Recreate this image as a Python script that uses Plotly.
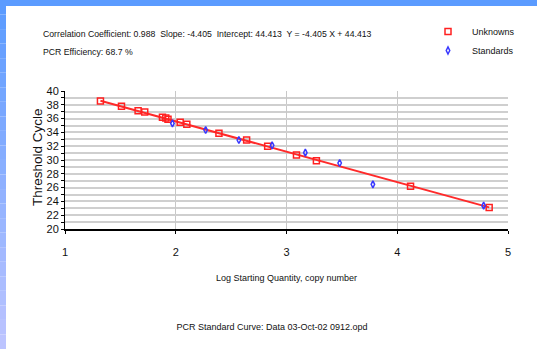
import plotly.graph_objects as go

# ---- data ----
unk_x = [1.32, 1.51, 1.66, 1.72, 1.88, 1.91, 1.93, 2.04, 2.10, 2.39, 2.64, 2.83, 3.09, 3.27, 4.12, 4.83]
unk_y = [38.55, 37.8, 37.15, 36.96, 36.2, 36.1, 35.9, 35.46, 35.17, 33.87, 32.9, 31.98, 30.72, 29.9, 26.19, 23.1]
std_x = [1.97, 2.27, 2.57, 2.87, 3.17, 3.48, 3.78, 4.78]
std_y = [35.3, 34.35, 32.9, 32.13, 31.06, 29.57, 26.48, 23.38]
fit_slope = -4.405
fit_intercept = 44.413
x_ticks = [1, 2, 3, 4, 5]
y_ticks = [20, 22, 24, 26, 28, 30, 32, 34, 36, 38, 40]

header1 = "Correlation Coefficient: 0.988  Slope: -4.405  Intercept: 44.413  Y = -4.405 X + 44.413"
header2 = "PCR Efficiency: 68.7 %"
title_text = "PCR Standard Curve: Data 03-Oct-02 0912.opd"
y_title = "Threshold Cycle"
x_title = "Log Starting Quantity, copy number"

# ---- geometry ----
W, H = 537, 349
ML, MR, MT, MB = 65, 29, 91, 120
PW, PH = W - ML - MR, H - MT - MB


def px_x(px):
    return (px - ML) / PW


def px_y(py):
    return (H - MB - py) / PH


FONT = "Liberation Sans, Arial, sans-serif"
TXT = "#111111"

fit_x = [min(unk_x), max(unk_x)]
fit_y = [fit_slope * v + fit_intercept for v in fit_x]

fig = go.Figure()
fig.add_trace(go.Scatter(x=fit_x, y=fit_y, mode="lines",
                         line=dict(color="#ff2a2a", width=2), showlegend=False, hoverinfo="skip"))
fig.add_trace(go.Scatter(x=unk_x, y=unk_y, mode="markers", name="Unknowns",
                         marker=dict(symbol="square-open", size=6, color="#ff2020",
                                     line=dict(width=1.5, color="#ff2020"))))
fig.add_trace(go.Scatter(x=std_x, y=std_y, mode="markers", name="Standards",
                         marker=dict(symbol="diamond-tall-open", size=5, color="#3838ff",
                                     line=dict(width=1.5, color="#3838ff"))))

# decorative blue frame (top band + left gradient band)
shapes = [dict(type="rect", xref="paper", yref="paper", x0=px_x(0), x1=px_x(W),
               y0=px_y(6), y1=px_y(0), fillcolor="#5b9bff", line_width=0, layer="below")]
top_c = (0x5b, 0x9b, 0xff)
bot_c = (0xbc, 0xc4, 0xff)
n = 24
for i in range(n):
    t = i / (n - 1)
    c = tuple(int(round(a + (b - a) * t)) for a, b in zip(top_c, bot_c))
    y0 = i * H / n
    y1 = (i + 1) * H / n
    shapes.append(dict(type="rect", xref="paper", yref="paper", x0=px_x(0), x1=px_x(6),
                       y0=px_y(y1), y1=px_y(y0), fillcolor="rgb(%d,%d,%d)" % c,
                       line_width=0, layer="below"))

fig.update_layout(
    width=W, height=H,
    margin=dict(l=ML, r=MR, t=MT, b=MB, autoexpand=False),
    paper_bgcolor="white", plot_bgcolor="white",
    font=dict(family=FONT, size=9, color=TXT),
    shapes=shapes,
    title=dict(text=title_text, x=272 / W, xanchor="center", y=1 - 327 / H, yanchor="middle",
               xref="container", yref="container", font=dict(family=FONT, size=9, color=TXT)),
    legend=dict(x=px_x(424), xanchor="left", y=px_y(17), yanchor="top", itemwidth=38,
                font=dict(family=FONT, size=9, color=TXT), bgcolor="rgba(0,0,0,0)",
                tracegroupgap=0),
    annotations=[
        dict(text=header1, xref="paper", yref="paper", x=px_x(41), y=px_y(34), xanchor="left",
             yanchor="middle", showarrow=False, font=dict(family=FONT, size=8.7, color=TXT)),
        dict(text=header2, xref="paper", yref="paper", x=px_x(41), y=px_y(52), xanchor="left",
             yanchor="middle", showarrow=False, font=dict(family=FONT, size=8.7, color=TXT)),
        dict(text=y_title, xref="paper", yref="paper", x=px_x(37), y=px_y(157), xanchor="center",
             yanchor="middle", textangle=-90, showarrow=False,
             font=dict(family=FONT, size=13.5, color=TXT)),
    ],
)

fig.update_xaxes(range=[1, 5], tickvals=x_ticks, ticktext=[str(v) for v in x_ticks],
                 automargin=False,
                 showline=True, linecolor="#000000", linewidth=2,
                 ticks="outside", ticklen=3, tickcolor="#000000",
                 showgrid=True, gridcolor="#c8c8c8", gridwidth=1, zeroline=False,
                 tickfont=dict(family=FONT, size=11), ticklabelstandoff=9,
                 title=dict(text=x_title, standoff=17, font=dict(family=FONT, size=9)))
fig.update_yaxes(range=[20, 40], tickvals=y_ticks, ticktext=[str(v) for v in y_ticks],
                 automargin=False,
                 showline=True, linecolor="#000000", linewidth=1,
                 ticks="outside", ticklen=3, tickcolor="#000000",
                 showgrid=True, gridcolor="#cfcfcf", gridwidth=2, zeroline=False,
                 minor=dict(dtick=1, ticks="outside", ticklen=3, tickcolor="#000000",
                            showgrid=True, gridcolor="#cfcfcf", gridwidth=2),
                 tickfont=dict(family=FONT, size=11))

fig.write_html("out.html", config={"displayModeBar": False},
               post_script="document.body.style.margin='0';")
